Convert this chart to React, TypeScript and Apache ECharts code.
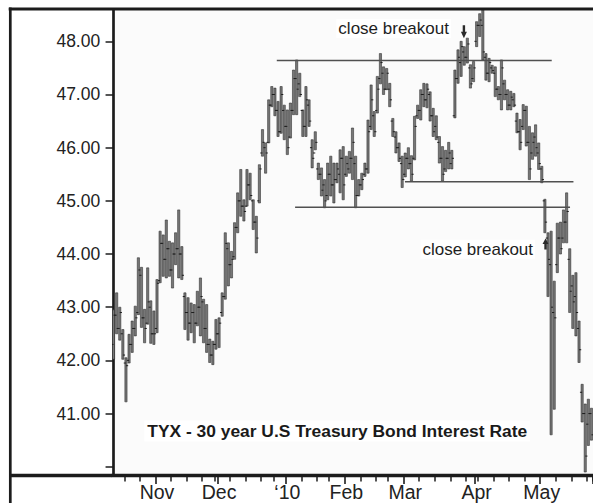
import React, { useEffect, useRef } from "react";
import * as echarts from "echarts";

// ---- categories: trading days shown on the chart ----
const FIRST_DAY = "2009-10-13";
const LAST_DAY = "2010-05-25";
const HOLIDAYS = ["2009-11-26", "2009-12-25", "2010-01-01", "2010-01-18", "2010-02-15", "2010-04-02"];

function tradingDays(first: string, last: string, holidays: string[]): string[] {
  const out: string[] = [];
  const d = new Date(first + "T00:00:00Z");
  const end = new Date(last + "T00:00:00Z");
  while (d.getTime() <= end.getTime()) {
    const wd = d.getUTCDay();
    const s = d.toISOString().slice(0, 10);
    if (wd !== 0 && wd !== 6 && holidays.indexOf(s) < 0) out.push(s);
    d.setUTCDate(d.getUTCDate() + 1);
  }
  return out;
}
const categories = tradingDays(FIRST_DAY, LAST_DAY, HOLIDAYS);

const MONTH_LABELS: Record<string, string> = {
  "11": "Nov", "12": "Dec", "01": "\u201810", "02": "Feb", "03": "Mar", "04": "Apr", "05": "May",
};

// ---- OHLC values (TYX, yield x10) ----
const highs = [
  42.95, 43.27, 43.00, 42.58, 42.05, 42.49, 42.74, 43.02, 43.93, 43.75,
  42.96, 43.74, 43.12, 42.93, 43.52, 44.43, 44.36, 44.64, 44.24, 44.21,
  44.40, 44.83, 44.14, 43.27, 43.18, 43.08, 43.05, 43.30, 43.55, 43.15,
  43.05, 42.40, 42.36, 42.77, 42.80, 43.27, 44.40, 44.21, 44.05, 44.59,
  45.15, 45.59, 45.02, 45.59, 45.52, 45.02, 44.71, 45.68, 46.34, 46.09,
  46.90, 47.15, 47.12, 46.87, 47.15, 46.80, 46.71, 46.84, 47.46, 47.65,
  47.40, 46.71, 47.15, 46.90, 46.15, 46.30, 45.71, 45.62, 45.40, 45.71,
  45.84, 45.71, 45.71, 45.96, 46.02, 45.84, 45.93, 46.37, 45.84, 45.40,
  45.52, 45.71, 46.52, 47.18, 46.68, 47.34, 47.77, 47.52, 47.49, 47.21,
  46.55, 46.30, 46.09, 45.84, 45.90, 46.00, 45.85, 46.59, 46.80, 47.09,
  47.21, 47.20, 47.05, 46.74, 46.60, 46.21, 46.02, 45.95, 46.10, 45.95,
  47.46, 47.84, 48.00, 47.90, 48.06, 47.56, 47.62, 48.37, 48.52, 48.70,
  47.77, 47.68, 47.55, 47.52, 47.15, 47.65, 47.27, 47.09, 47.06, 47.02,
  46.65, 46.53, 46.81, 46.78, 46.40, 46.28, 46.43, 46.09, 45.65, 45.03,
  44.40, 44.43, 43.49, 44.58, 44.60, 44.83, 45.15, 44.10, 43.60, 43.65,
  42.74, 41.55, 41.18, 41.27, 41.10,
];
const lows = [
  42.02, 42.50, 42.38, 42.02, 41.22, 41.95, 42.15, 42.46, 42.86, 42.62,
  42.33, 42.68, 42.32, 42.30, 42.52, 43.46, 43.58, 43.55, 43.58, 43.36,
  43.80, 43.55, 43.52, 42.58, 42.38, 42.52, 42.33, 42.65, 42.46, 42.33,
  42.15, 41.96, 41.92, 42.21, 42.24, 42.83, 43.15, 43.40, 43.55, 43.90,
  44.40, 44.71, 44.62, 44.90, 45.02, 44.46, 44.02, 44.96, 45.84, 45.52,
  46.09, 46.77, 46.60, 46.21, 46.27, 46.15, 45.87, 46.18, 46.62, 46.62,
  46.96, 46.21, 46.21, 46.40, 45.62, 45.96, 45.40, 45.09, 44.87, 45.02,
  45.09, 44.96, 45.34, 45.15, 45.02, 45.46, 45.52, 45.40, 44.87, 45.09,
  45.21, 45.46, 45.52, 46.34, 46.21, 46.65, 47.20, 47.00, 47.09, 46.77,
  46.21, 45.90, 45.74, 45.25, 45.45, 45.60, 45.37, 45.77, 46.55, 46.52,
  46.77, 46.75, 46.50, 46.21, 46.15, 45.71, 45.37, 45.55, 45.60, 45.60,
  46.56, 47.21, 47.34, 47.55, 47.59, 47.12, 47.24, 47.90, 48.09, 47.65,
  47.27, 47.24, 47.40, 46.96, 46.90, 46.71, 46.90, 46.71, 46.71, 46.77,
  46.28, 45.96, 46.34, 46.03, 45.40, 45.78, 45.84, 45.59, 45.34, 44.40,
  43.20, 40.60, 41.08, 43.65, 44.00, 44.21, 44.21, 42.90, 42.60, 42.46,
  41.96, 40.84, 39.90, 40.40, 40.50,
];
const opens = [
  42.30, 42.85, 42.60, 42.50, 41.95, 42.00, 42.30, 42.60, 42.90, 43.60,
  42.80, 42.70, 43.00, 42.50, 42.60, 43.50, 44.20, 43.90, 44.10, 43.70,
  44.00, 44.10, 44.00, 43.20, 42.90, 42.70, 42.90, 42.70, 43.00, 43.10,
  42.60, 42.30, 42.10, 42.30, 42.50, 42.90, 43.20, 44.10, 43.80, 43.95,
  44.50, 45.00, 44.90, 44.90, 45.30, 45.00, 44.60, 45.00, 45.90, 46.00,
  46.10, 46.80, 47.00, 46.70, 46.30, 46.70, 46.40, 46.20, 46.70, 47.30,
  47.20, 46.70, 46.40, 46.80, 46.00, 45.90, 45.60, 45.50, 45.30, 45.10,
  45.50, 45.30, 45.40, 45.50, 45.80, 45.50, 45.60, 45.80, 45.70, 45.10,
  45.30, 45.50, 45.60, 46.40, 46.60, 46.70, 47.30, 47.40, 47.10, 47.10,
  46.50, 46.20, 46.00, 45.70, 45.50, 45.80, 45.70, 45.80, 46.60, 46.70,
  47.00, 46.90, 47.00, 46.60, 46.40, 46.10, 45.80, 45.60, 45.80, 45.70,
  46.60, 47.30, 47.60, 47.80, 47.70, 47.50, 47.30, 48.00, 48.30, 48.30,
  47.70, 47.40, 47.50, 47.40, 47.10, 47.00, 47.20, 47.00, 46.80, 46.90,
  46.50, 46.30, 46.40, 46.70, 46.10, 45.90, 46.20, 45.90, 45.60, 45.00,
  44.30, 43.80, 42.90, 43.80, 44.30, 44.30, 44.60, 43.90, 43.40, 43.20,
  42.60, 41.40, 41.00, 40.80, 41.00,
];
const closes = [
  42.85, 42.60, 42.90, 42.10, 41.90, 42.30, 42.60, 42.80, 43.70, 42.80,
  42.60, 43.10, 42.50, 42.50, 43.45, 44.20, 43.90, 44.10, 43.70, 44.00,
  44.10, 44.00, 43.60, 42.90, 42.70, 42.90, 42.70, 43.00, 43.20, 42.60,
  42.30, 42.10, 42.30, 42.50, 42.70, 43.20, 44.20, 43.80, 43.90, 44.50,
  45.00, 44.90, 44.80, 45.30, 45.10, 44.60, 44.30, 45.60, 46.10, 45.90,
  46.80, 47.00, 46.70, 46.30, 47.00, 46.40, 46.00, 46.70, 47.30, 47.10,
  47.00, 46.40, 46.90, 46.50, 45.80, 46.10, 45.50, 45.20, 45.00, 45.50,
  45.30, 45.40, 45.60, 45.80, 45.30, 45.70, 45.80, 46.10, 45.10, 45.30,
  45.40, 45.60, 46.30, 46.90, 46.30, 47.10, 47.60, 47.10, 47.40, 46.90,
  46.30, 46.00, 45.80, 45.40, 45.80, 45.70, 45.50, 46.40, 46.70, 47.00,
  46.90, 47.10, 46.60, 46.30, 46.20, 45.80, 45.50, 45.80, 45.90, 45.80,
  47.30, 47.70, 47.90, 47.70, 47.95, 47.20, 47.50, 48.30, 48.40, 47.80,
  47.40, 47.60, 47.45, 47.10, 47.00, 47.50, 47.00, 46.80, 46.95, 46.80,
  46.30, 46.10, 46.70, 46.10, 45.60, 46.10, 46.00, 45.70, 45.40, 44.60,
  43.90, 43.00, 42.80, 44.30, 44.10, 44.60, 44.80, 43.30, 43.10, 42.90,
  42.20, 41.00, 40.20, 41.00, 40.60,
];

// ---- axis values ----
const Y_MIN = 39.835;
const Y_MAX = 48.589;
const yTickValues = [40, 41, 42, 43, 44, 45, 46, 47, 48];
const yLabelValues = [41, 42, 43, 44, 45, 46, 47, 48];

// ---- support / resistance lines (value, from day index, to day index) ----
const levelValues = [47.64, 45.36, 44.88];
const levelFrom = [52.6, 93.9, 58.5];
const levelTo = [141.2, 148.2, 147.1];

// ---- annotations (day index, value) ----
const TITLE = "TYX - 30 year U.S Treasury Bond Interest Rate";
const annotationTexts = ["close breakout", "close breakout"];
const annotationX = [71.8, 98.9];
const annotationY = [48.24, 44.09];
const arrowX = [112.9, 139.2];
const arrowY = [48.18, 44.19];
const arrowDir = ["down", "up"];
const titleX = 9.9;
const titleY = 40.67;

const FONT = "'Liberation Sans', Arial, Helvetica, sans-serif";
const INK = "#1c1c1c";

export default function App() {
  const ref = useRef<HTMLDivElement>(null);

  useEffect(() => {
    if (!ref.current) return;
    const chart = echarts.init(ref.current, undefined, { renderer: "svg" });
    const N = categories.length;

    const weekStart = categories.map((d, i) => {
      if (i === 0) return false;
      const a = new Date(categories[i - 1] + "T00:00:00Z").getUTCDay();
      const b = new Date(d + "T00:00:00Z").getUTCDay();
      return b < a;
    });
    const monthStart = categories.map((d, i) => i > 0 && d.slice(5, 7) !== categories[i - 1].slice(5, 7));

    const ohlc = categories.map((_, i) => [i, opens[i], closes[i], lows[i], highs[i]]);

    const levelSeries = levelValues.map((v, k) => ({
      type: "line",
      xAxisIndex: 0,
      yAxisIndex: 0,
      data: [[levelFrom[k], v], [levelTo[k], v]],
      symbol: "none",
      silent: true,
      z: 3,
      lineStyle: { color: "#505050", width: 1.6 },
    }));

    chart.setOption({
      animation: false,
      backgroundColor: "#ffffff",
      grid: {
        left: 112,
        right: 0,
        top: 10,
        bottom: 27.5,
        show: true,
        backgroundColor: "#fbfbfb",
        borderWidth: 0,
      },
      xAxis: [
        { type: "value", min: -0.5, max: N - 0.5, show: false },
        {
          type: "category",
          data: categories,
          position: "bottom",
          axisLine: { show: true, lineStyle: { color: INK, width: 3.3 } },
          axisTick: {
            show: true,
            interval: (i: number) => weekStart[i] && !monthStart[i],
            length: 6,
            lineStyle: { color: INK, width: 1.5 },
          },
          axisLabel: { show: false },
          splitLine: { show: false },
        },
        {
          type: "category",
          data: categories,
          position: "bottom",
          axisLine: { show: false },
          axisTick: {
            show: true,
            interval: (i: number) => monthStart[i],
            length: 8.5,
            lineStyle: { color: INK, width: 1.6 },
          },
          axisLabel: {
            show: true,
            interval: (i: number) => monthStart[i],
            formatter: (v: string) => MONTH_LABELS[v.slice(5, 7)] || "",
            fontSize: 19.5,
            fontFamily: FONT,
            color: "#222",
            margin: 6,
          },
          splitLine: { show: false },
        },
      ],
      yAxis: {
        type: "value",
        min: Y_MIN,
        max: Y_MAX,
        offset: 1.3,
        axisLine: { show: true, lineStyle: { color: INK, width: 2.7 } },
        axisTick: { show: true, customValues: yTickValues, length: 8, lineStyle: { color: INK, width: 1.5 } },
        axisLabel: {
          customValues: yLabelValues,
          formatter: (v: number) => v.toFixed(2),
          fontSize: 17.5,
          fontFamily: FONT,
          color: "#222",
          margin: 10.5,
        },
        splitLine: { show: false },
      },
      series: [
        {
          type: "custom",
          xAxisIndex: 0,
          yAxisIndex: 0,
          clip: true,
          data: ohlc,
          encode: { x: 0, y: [1, 2, 3, 4] },
          renderItem: (_params: any, api: any) => {
            const i = api.value(0);
            const pO = api.coord([i, api.value(1)]);
            const pC = api.coord([i, api.value(2)]);
            const pL = api.coord([i, api.value(3)]);
            const pH = api.coord([i, api.value(4)]);
            const x = pH[0];
            return {
              type: "group",
              children: [
                {
                  type: "rect",
                  shape: { x: x - 1.1, y: pH[1], width: 2.2, height: Math.max(1, pL[1] - pH[1]) },
                  style: { fill: "#777777", stroke: "#2a2a2a", lineWidth: 0.55 },
                },
                {
                  type: "line",
                  shape: { x1: x - 2.2, y1: pO[1], x2: x, y2: pO[1] },
                  style: { stroke: "#1f1f1f", lineWidth: 1 },
                },
                {
                  type: "line",
                  shape: { x1: x, y1: pC[1], x2: x + 2.2, y2: pC[1] },
                  style: { stroke: "#1f1f1f", lineWidth: 1 },
                },
              ],
            };
          },
        },
        ...levelSeries,
      ],
    });

    const px = (x: number, y: number) => chart.convertToPixel({ seriesIndex: 0 }, [x, y]) as number[];

    const texts = annotationTexts.map((t, k) => {
      const p = px(annotationX[k], annotationY[k]);
      return {
        type: "text",
        x: p[0],
        y: p[1],
        z: 10,
        style: {
          text: t,
          fontSize: 17,
          fontFamily: FONT,
          fill: "#1e1e1e",
          align: "left",
          verticalAlign: "middle",
          backgroundColor: "#ffffff",
          padding: [1, 2],
        },
      };
    });

    const arrows = arrowX.map((ax, k) => {
      const p = px(ax, arrowY[k]);
      const s = arrowDir[k] === "down" ? 1 : -1;
      const h = arrowDir[k] === "down" ? 6.5 : 5.5;
      const pts = [
        [-1.2, -h], [1.2, -h], [1.2, 0], [3, 0], [0, h], [-3, 0], [-1.2, 0],
      ].map(([a, b]) => [p[0] + a, p[1] + b * s]);
      return { type: "polygon", z: 11, shape: { points: pts }, style: { fill: "#2a2a2a" } };
    });

    const tp = px(titleX, titleY);
    const title = {
      type: "text",
      x: tp[0],
      y: tp[1],
      z: 10,
      style: {
        text: TITLE,
        fontSize: 17.4,
        fontWeight: "bold",
        fontFamily: FONT,
        fill: "#1a1a1a",
        align: "left",
        verticalAlign: "middle",
        backgroundColor: "#ffffff",
        padding: [2, 3],
      },
    };

    const frame = [
      { type: "line", z: 20, shape: { x1: 8.7, y1: 9, x2: 593, y2: 9 }, style: { stroke: INK, lineWidth: 3 } },
      { type: "line", z: 20, shape: { x1: 10.3, y1: 7.5, x2: 10.3, y2: 503 }, style: { stroke: INK, lineWidth: 2.7 } },
      { type: "line", z: 20, shape: { x1: 9, y1: 475.5, x2: 112, y2: 475.5 }, style: { stroke: INK, lineWidth: 3.3 } },
    ];

    chart.setOption({ graphic: [...frame, ...texts, ...arrows, title] });

    return () => chart.dispose();
  }, []);

  return <div ref={ref} style={{ position: "fixed", left: 0, top: 0, width: 593, height: 503 }} />;
}
